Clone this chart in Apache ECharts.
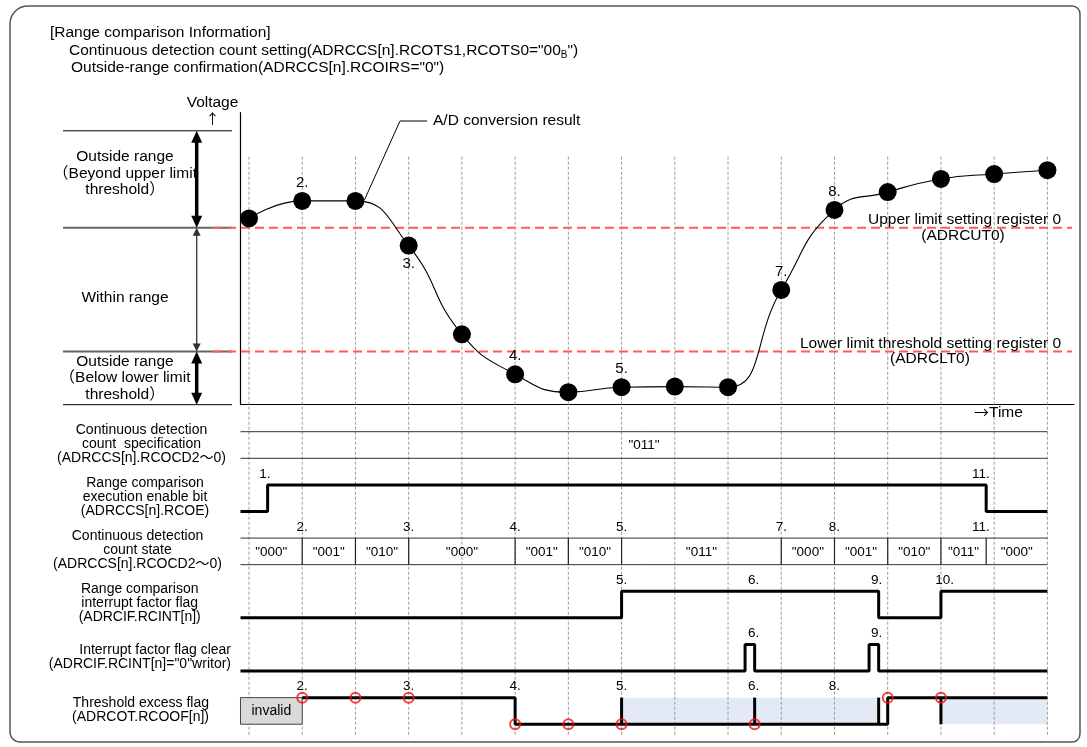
<!DOCTYPE html>
<html>
<head>
<meta charset="utf-8">
<script src="https://cdn.jsdelivr.net/npm/echarts@6/dist/echarts.min.js"></script>
<style>
html,body{margin:0;padding:0;background:#fff;}
#c{width:1087px;height:747px;}
</style>
</head>
<body>
<div id="c"></div>
<script>
// ---------------- data ----------------
const sampleTimes = [0,1,2,3,4,5,6,7,8,9,10,11,12,13,14,15];
const voltage = [63.8,69.8,69.8,54.5,24.1,10.4,4.3,6.0,6.2,6.0,39.3,66.7,72.8,77.3,79.0,80.3];
const pointLabels = ['','2.','','3.','','4.','','5.','','','7.','8.','','','',''];
const upperLimit = 60.6;
const lowerLimit = 18.2;
const rangeTop = 93.8;
const rangeBottom = 0;
const rangeLabelTexts = [
  ['Outside range','（Beyond upper limit','threshold）'],
  ['Within range'],
  ['Outside range','（Below lower limit','threshold）']
];
const upperLimitTexts = ['Upper limit setting register 0','(ADRCUT0)'];
const lowerLimitTexts = ['Lower limit threshold setting register 0','(ADRCLT0)'];
const adLabel = 'A/D conversion result';
const adLabelPoint = 2;

const tStart = -0.16;
const tEnd = 15;
const countSpecValue = '"011"';
const rcoeEdges = [[tStart,0],[0.35,1],[13.85,0]];
const countStateSegments = [['"000"',1],['"001"',2],['"010"',3],['"000"',5],['"001"',6],['"010"',7],['"011"',10],['"000"',11],['"001"',12],['"010"',13],['"011"',13.85],['"000"',15]];
const rcintEdges = [[tStart,0],[7,1],[11.83,0],[13,1]];
const clearEdges = [[tStart,0],[9.32,1],[9.5,0],[11.65,1],[11.83,0]];
const rcoofInvalidEnd = 1;
const rcoofEdges = [[1,1],[5,0],[12,1]];
const rcoofTicks = [7,9.5,11.83,13];
const rcoofShades = [[7,11.83],[13,15]];
const rcoofCircles = [[1,1],[2,1],[3,1],[5,0],[6,0],[7,0],[9.5,0],[12,1],[13,1]];
const eventLabels = [
  [1,0.3,'1.'],[1,13.75,'11.'],
  [2,1,'2.'],[2,3,'3.'],[2,5,'4.'],[2,7,'5.'],[2,10,'7.'],[2,11,'8.'],[2,13.75,'11.'],
  [3,7,'5.'],[3,9.48,'6.'],[3,11.79,'9.'],[3,13.07,'10.'],
  [4,9.48,'6.'],[4,11.79,'9.'],
  [5,1,'2.'],[5,3,'3.'],[5,5,'4.'],[5,7,'5.'],[5,9.48,'6.'],[5,11,'8.']
];
const rowLabels = [
  ['Continuous detection','count  specification','(ADRCCS[n].RCOCD2～0)'],
  ['Range comparison','execution enable bit','(ADRCCS[n].RCOE)'],
  ['Continuous detection','count state','(ADRCCS[n].RCOCD2～0)'],
  ['Range comparison','interrupt factor flag','(ADRCIF.RCINT[n])'],
  ['Interrupt factor flag clear','(ADRCIF.RCINT[n]="0"writor)'],
  ['Threshold excess flag','(ADRCOT.RCOOF[n])']
];
const titleLines = ['[Range comparison Information]','Continuous detection count setting(ADRCCS[n].RCOTS1,RCOTS0="00','B','")','Outside-range confirmation(ADRCCS[n].RCOIRS="0")'];

// ---------------- layout / style ----------------
const FONT = 'Arial, "Liberation Sans", "Noto Sans CJK JP", sans-serif';
const CJK = '"Noto Sans CJK JP", sans-serif';
const X_MIN = -0.156, X_MAX = 15.5;
const GL = 240.7, GR = 13;
const RED = '#ff5a5a';

function txt(x, y, text, size, align, vAlign, family) {
  return {
    type: 'text', x: x, y: y, silent: true,
    style: { text: text, fill: '#000', fontSize: size, fontFamily: family || FONT,
             align: align || 'center', verticalAlign: vAlign || 'middle' }
  };
}
function lvl(row, level) { return 2 * row + (level ? 0 : 1); }
function stepData(row, edges) {
  const d = edges.map(e => [e[0], lvl(row, e[1])]);
  d.push([tEnd, lvl(row, edges[edges.length - 1][1])]);
  return d;
}
function arrow(x, y1, y2, w, head, headW, color) {
  return [
    {type:'line', shape:{x1:x, y1:y1 + head - 1, x2:x, y2:y2 - head + 1}, style:{stroke:color, lineWidth:w}},
    {type:'polygon', shape:{points:[[x,y1],[x-headW/2,y1+head],[x+headW/2,y1+head]]}, style:{fill:color}},
    {type:'polygon', shape:{points:[[x,y2],[x-headW/2,y2-head],[x+headW/2,y2-head]]}, style:{fill:color}}
  ];
}

const chart = echarts.init(document.getElementById('c'));

const option = {
  animation: false,
  backgroundColor: '#fff',
  grid: [
    {left: GL, right: GR, top: 112.7, height: 292},
    {left: GL, right: GR, top: 156.7, bottom: 10}
  ],
  xAxis: [
    {type:'value', gridIndex:0, min:X_MIN, max:X_MAX,
     axisLine:{show:true, onZero:false, lineStyle:{color:'#000', width:1.2}},
     axisTick:{show:false}, axisLabel:{show:false}, splitLine:{show:false}},
    {type:'value', gridIndex:1, min:X_MIN, max:X_MAX, show:false}
  ],
  yAxis: [
    {type:'value', gridIndex:0, min:0, max:100,
     axisLine:{show:true, onZero:false, lineStyle:{color:'#000', width:1.2}},
     axisTick:{show:false}, axisLabel:{show:false}, splitLine:{show:false}},
    {type:'value', gridIndex:1, min:-10.34, max:11.48, inverse:true, show:false}
  ],
  series: [
    // vertical dashed sample lines
    {
      type:'custom', xAxisIndex:1, yAxisIndex:1, z:2, silent:true,
      data: sampleTimes.map(t => [t, 0]),
      renderItem: function (params, api) {
        const x = api.coord([api.value(0), 0])[0];
        const cs = params.coordSys;
        return {type:'line', shape:{x1:x, y1:cs.y, x2:x, y2:cs.y + cs.height},
                style:{stroke:'#9a9a9a', lineWidth:1, lineDash:[3,2]}};
      }
    },
    // voltage decorations: range brackets, thresholds, texts
    {
      type:'custom', xAxisIndex:0, yAxisIndex:0, z:3, silent:true, clip:false,
      data: [[0, 0]],
      renderItem: function (params, api) {
        const yT = api.coord([0, rangeTop])[1];
        const yU = api.coord([0, upperLimit])[1];
        const yL = api.coord([0, lowerLimit])[1];
        const yB = api.coord([0, rangeBottom])[1];
        const ch = [];
        ch.push({type:'line', shape:{x1:63, y1:yT, x2:232, y2:yT}, style:{stroke:'#000', lineWidth:1}});
        ch.push({type:'line', shape:{x1:63, y1:yU, x2:232, y2:yU}, style:{stroke:'#666', lineWidth:2}});
        ch.push({type:'line', shape:{x1:63, y1:yL, x2:232, y2:yL}, style:{stroke:'#666', lineWidth:2}});
        ch.push({type:'line', shape:{x1:63, y1:yB, x2:232, y2:yB}, style:{stroke:'#000', lineWidth:1}});
        arrow(196.7, yT, yU, 3.5, 12, 11, '#000').forEach(e => ch.push(e));
        arrow(196.7, yU, yL, 1.3, 8, 8, '#333').forEach(e => ch.push(e));
        arrow(196.7, yL, yB, 3.5, 12, 11, '#000').forEach(e => ch.push(e));
        const centers = [(yT + yU) / 2 - 6, (yU + yL) / 2 + 8, (yL + yB) / 2];
        rangeLabelTexts.forEach((lines, i) => {
          const n = lines.length;
          lines.forEach((s, j) => ch.push(txt(125, centers[i] + (j - (n - 1) / 2) * 16.2, s, 15.5)));
        });
        ch.push({type:'line', shape:{x1:213, y1:yU, x2:1072, y2:yU}, style:{stroke:RED, lineWidth:2, lineDash:[9,5]}});
        ch.push({type:'line', shape:{x1:213, y1:yL, x2:1072, y2:yL}, style:{stroke:RED, lineWidth:2, lineDash:[9,5]}});
        ch.push(txt(1061, yU - 8, upperLimitTexts[0], 15.5, 'right'));
        ch.push(txt(963, yU + 7.5, upperLimitTexts[1], 15.5, 'center'));
        ch.push(txt(1061, yL - 8, lowerLimitTexts[0], 15.5, 'right'));
        ch.push(txt(930, yL + 7.5, lowerLimitTexts[1], 15.5, 'center'));
        ch.push(txt(212.5, 103, 'Voltage', 15.5));
        ch.push(txt(212.5, 119, '↑', 14, 'center', 'middle', CJK));
        ch.push(txt(974, yB + 8, '→', 15, 'left', 'middle', CJK));
        ch.push(txt(989, yB + 8, 'Time', 15.5, 'left'));
        const p = api.coord([sampleTimes[adLabelPoint], voltage[adLabelPoint]]);
        ch.push({type:'polyline', shape:{points:[[p[0] + 9, p[1] - 1],[400, 121],[427, 121]]}, style:{stroke:'#000', lineWidth:1, fill:null}});
        ch.push(txt(433, 121, adLabel, 15.5, 'left'));
        return {type:'group', children: ch};
      }
    },
    // A/D conversion result curve
    {
      type:'line', xAxisIndex:0, yAxisIndex:0, z:5, smooth:0.5,
      symbol:'circle', symbolSize:18, showAllSymbol:true,
      lineStyle:{color:'#000', width:1.1},
      itemStyle:{color:'#000'},
      data: sampleTimes.map((t, i) => ({
        value:[t, voltage[i]],
        label:{show: !!pointLabels[i], formatter: pointLabels[i], position: (i === 3 ? 'bottom' : 'top'),
               distance: 1.5, color:'#000', fontSize:15, fontFamily:FONT}
      }))
    },
    // shaded areas for threshold excess flag
    {
      type:'custom', xAxisIndex:1, yAxisIndex:1, z:1, silent:true,
      data: rcoofShades,
      renderItem: function (params, api) {
        const a = api.coord([api.value(0), lvl(5, 1)]);
        const b = api.coord([api.value(1), lvl(5, 0)]);
        return {type:'rect', shape:{x:a[0], y:a[1], width:b[0] - a[0], height:b[1] - a[1]},
                style:{fill:'#e4eaf5'}};
      }
    },
    // bus rows, row labels, invalid box, ticks, event labels
    {
      type:'custom', xAxisIndex:1, yAxisIndex:1, z:4, silent:true, clip:false,
      data: [[0, 0]],
      renderItem: function (params, api) {
        const ch = [];
        const X = t => api.coord([t, 0])[0];
        const Y = v => api.coord([0, v])[1];
        // row 0 bus
        ch.push({type:'line', shape:{x1:X(tStart), y1:Y(lvl(0,1)), x2:X(tEnd), y2:Y(lvl(0,1))}, style:{stroke:'#333', lineWidth:1}});
        ch.push({type:'line', shape:{x1:X(tStart), y1:Y(lvl(0,0)), x2:X(tEnd), y2:Y(lvl(0,0))}, style:{stroke:'#333', lineWidth:1}});
        ch.push(txt((X(tStart) + X(tEnd)) / 2, (Y(lvl(0,1)) + Y(lvl(0,0))) / 2, countSpecValue, 13.5));
        // row 2 bus
        const y2a = Y(lvl(2,1)), y2b = Y(lvl(2,0));
        ch.push({type:'line', shape:{x1:X(tStart), y1:y2a, x2:X(tEnd), y2:y2a}, style:{stroke:'#333', lineWidth:1}});
        ch.push({type:'line', shape:{x1:X(tStart), y1:y2b, x2:X(tEnd), y2:y2b}, style:{stroke:'#333', lineWidth:1}});
        let s = tStart;
        countStateSegments.forEach(([v, e], i) => {
          ch.push(txt((X(s) + X(e)) / 2, (y2a + y2b) / 2 + 1, v, 13.5));
          if (i < countStateSegments.length - 1) {
            ch.push({type:'line', shape:{x1:X(e), y1:y2a, x2:X(e), y2:y2b}, style:{stroke:'#222', lineWidth:1.2}});
          }
          s = e;
        });
        // invalid box
        const ia = Y(lvl(5,1)), ib = Y(lvl(5,0));
        ch.push({type:'rect', shape:{x:X(tStart), y:ia, width:X(rcoofInvalidEnd) - X(tStart), height:ib - ia},
                 style:{fill:'#d9d9d9', stroke:'#444', lineWidth:1}});
        ch.push(txt((X(tStart) + X(rcoofInvalidEnd)) / 2, (ia + ib) / 2, 'invalid', 14));
        // ticks
        rcoofTicks.forEach(t => ch.push({type:'line', shape:{x1:X(t), y1:ia, x2:X(t), y2:ib}, style:{stroke:'#000', lineWidth:3}}));
        // event labels
        eventLabels.forEach(([r, t, s2]) => ch.push(txt(X(t), Y(lvl(r,1)) - 11, s2, 13.5)));
        // row labels
        const anchors = [[141.5,'center'],[145,'center'],[137.5,'center'],[139.7,'center'],[231,'right'],[209,'right']];
        rowLabels.forEach((lines, r) => {
          const c = (Y(lvl(r,1)) + Y(lvl(r,0))) / 2 - 1;
          const n = lines.length;
          lines.forEach((l, j) => ch.push(txt(anchors[r][0], c + (j - (n - 1) / 2) * 14, l, 14, anchors[r][1])));
        });
        return {type:'group', children: ch};
      }
    },
    // waveforms
    {type:'line', xAxisIndex:1, yAxisIndex:1, z:5, step:'end', symbol:'none', lineStyle:{color:'#000', width:3}, data: stepData(1, rcoeEdges)},
    {type:'line', xAxisIndex:1, yAxisIndex:1, z:5, step:'end', symbol:'none', lineStyle:{color:'#000', width:3}, data: stepData(3, rcintEdges)},
    {type:'line', xAxisIndex:1, yAxisIndex:1, z:5, step:'end', symbol:'none', lineStyle:{color:'#000', width:3}, data: stepData(4, clearEdges)},
    {type:'line', xAxisIndex:1, yAxisIndex:1, z:5, step:'end', symbol:'none', lineStyle:{color:'#000', width:3}, data: stepData(5, rcoofEdges)},
    // red circles
    {type:'scatter', xAxisIndex:1, yAxisIndex:1, z:6, symbol:'circle', symbolSize:10,
     itemStyle:{color:'rgba(255,255,255,0)', borderColor:'#ee1111', borderWidth:2},
     data: rcoofCircles.map(c => [c[0], lvl(5, c[1])])}
  ],
  graphic: [
    {type:'rect', z:0, silent:true, shape:{x:10, y:6, width:1070, height:736, r:[18,8,8,10]},
     style:{fill:'none', stroke:'#555', lineWidth:1.5}},
    {type:'text', x:50, y:33, silent:true, style:{text:titleLines[0], fontSize:15.5, fontFamily:FONT, fill:'#000', verticalAlign:'middle'}},
    {type:'text', x:69, y:51, silent:true, style:{
      text:'{n|' + titleLines[1] + '}{s|' + titleLines[2] + '}{n|' + titleLines[3] + '}',
      fontSize:15.5, fontFamily:FONT, fill:'#000', verticalAlign:'middle',
      rich:{n:{fontSize:15.5, fontFamily:FONT, fill:'#000'}, s:{fontSize:10, fontFamily:FONT, fill:'#000', padding:[9,0,0,0]}}}},
    {type:'text', x:71, y:68, silent:true, style:{text:titleLines[4], fontSize:15.5, fontFamily:FONT, fill:'#000', verticalAlign:'middle'}}
  ]
};
chart.setOption(option);
</script>
</body>
</html>
